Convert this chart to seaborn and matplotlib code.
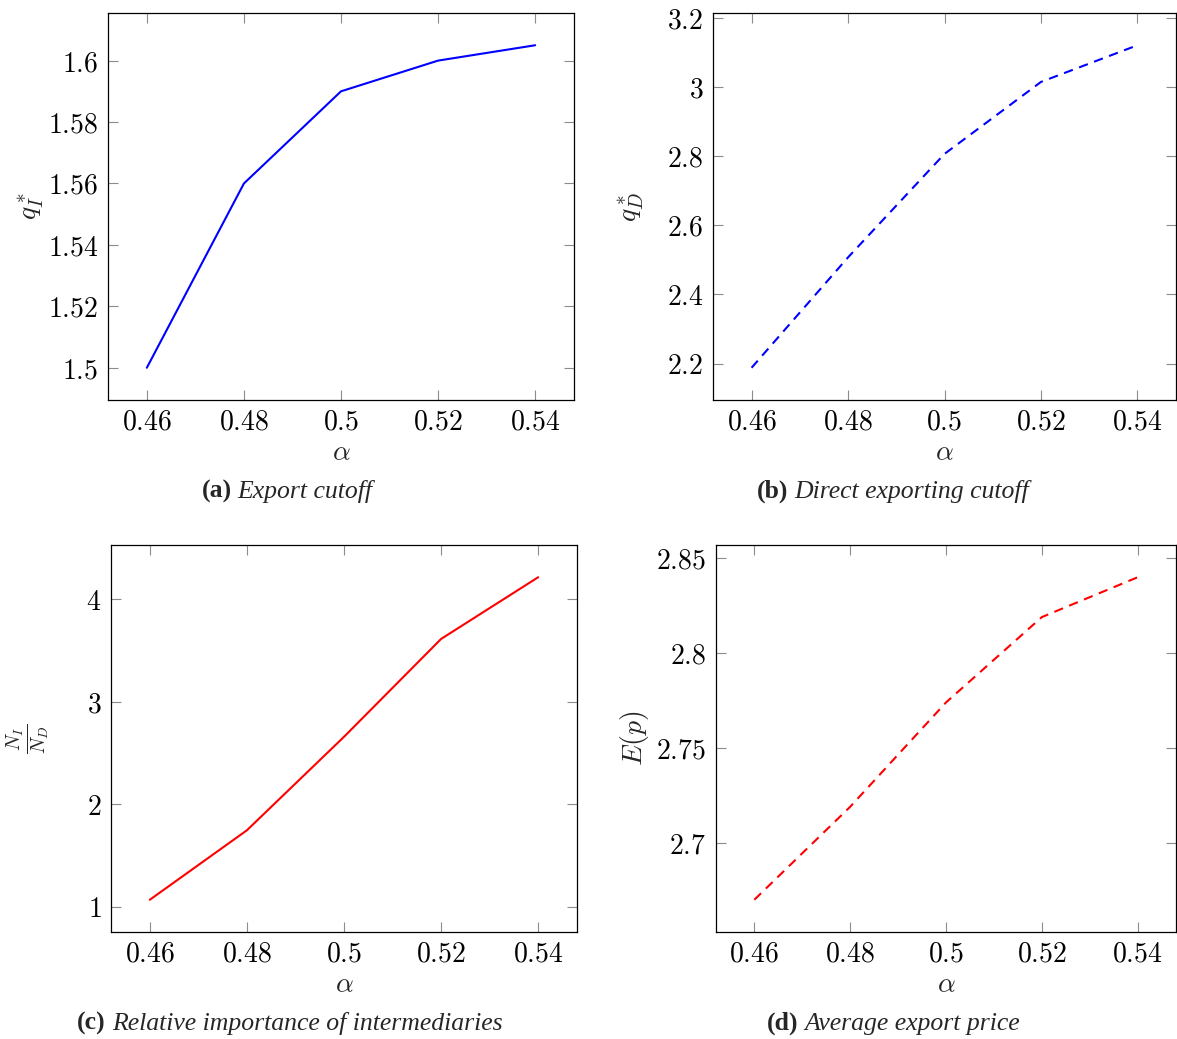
import matplotlib
matplotlib.use("Agg")
import matplotlib.pyplot as plt
import seaborn as sns
import numpy as np
import pandas as pd
from matplotlib.ticker import FuncFormatter, FixedLocator
from matplotlib import font_manager

# ---- data ----
alpha = [0.46, 0.48, 0.50, 0.52, 0.54]
q_I = [1.500, 1.560, 1.590, 1.600, 1.605]
q_D = [2.188, 2.507, 2.806, 3.014, 3.120]
ratio_NI_ND = [1.068, 1.746, 2.658, 3.613, 4.215]
avg_price = [2.670, 2.719, 2.774, 2.819, 2.840]

xticks = [0.46, 0.48, 0.50, 0.52, 0.54]
yticks_a = [1.50, 1.52, 1.54, 1.56, 1.58, 1.60]
yticks_b = [2.2, 2.4, 2.6, 2.8, 3.0, 3.2]
yticks_c = [1, 2, 3, 4]
yticks_d = [2.70, 2.75, 2.80, 2.85]

ylabels = [r"$q_I^*$", r"$q_D^*$", r"$\frac{N_I}{N_D}$", r"$E(p)$"]
caption_tags = ["(a)", "(b)", "(c)", "(d)"]
caption_texts = ["Export cutoff", "Direct exporting cutoff",
                 "Relative importance of intermediaries", "Average export price"]

sns.set_theme(style="ticks")
plt.rcParams["mathtext.fontset"] = "cm"
plt.rcParams["font.family"] = ["DejaVu Serif"]


def find_font(name, **kw):
    files = font_manager.findSystemFonts()
    for f in files:
        if f.endswith(name):
            return font_manager.FontProperties(fname=f, size=18.5)
    return font_manager.FontProperties(family=["Liberation Serif", "DejaVu Serif"],
                                       size=18.5, **kw)


fp_bold = find_font("LiberationSerif-Bold.ttf", weight="bold")
fp_ital = find_font("LiberationSerif-Italic.ttf", style="italic")

W, H = 1177, 1039
fig = plt.figure(figsize=(W / 100, H / 100), dpi=100)


def box(l, t, r, b):
    return [l / W, 1 - b / H, (r - l) / W, (b - t) / H]


boxes = [box(108, 13, 574, 400), box(713, 13, 1176, 400),
         box(111, 545, 577, 932), box(716, 545, 1176, 932)]
series = [q_I, q_D, ratio_NI_ND, avg_price]
colors = ["#0000ff", "#0000ff", "#ff0000", "#ff0000"]
styles = ["-", (0, (4.5, 3.2)), "-", (0, (4.5, 3.2))]
yticks_all = [yticks_a, yticks_b, yticks_c, yticks_d]
ylab_x = [-0.133, -0.145, -0.126, -0.141]

fmt = FuncFormatter(lambda v, p: "$%g$" % round(v, 4))

for i in range(4):
    ax = fig.add_axes(boxes[i])
    df = pd.DataFrame({"alpha": alpha, "val": series[i]})
    sns.lineplot(data=df, x="alpha", y="val", ax=ax, color=colors[i],
                 linewidth=1.5, linestyle=styles[i])
    vals = np.array(series[i])
    ymin, ymax = vals.min(), vals.max()
    pad = 0.1 * (ymax - ymin)
    ax.set_ylim(ymin - pad, ymax + pad)
    ax.set_xlim(0.46 - 0.008, 0.54 + 0.008)
    ax.xaxis.set_major_locator(FixedLocator(xticks))
    ax.yaxis.set_major_locator(FixedLocator(yticks_all[i]))
    ax.xaxis.set_major_formatter(fmt)
    ax.yaxis.set_major_formatter(fmt)
    ax.tick_params(direction="in", length=7, width=0.8, color="#8c8c8c",
                   top=True, right=True, labelsize=20, pad=7, labelcolor="black")
    ax.tick_params(axis="x", pad=6)
    for s in ax.spines.values():
        s.set_color("black")
        s.set_linewidth(0.9)
    ax.set_xlabel(r"$\alpha$", fontsize=20)
    ax.set_ylabel(ylabels[i], fontsize=20)
    ax.xaxis.set_label_coords(0.5, -0.10)
    ax.yaxis.set_label_coords(ylab_x[i], 0.5)
    ax.grid(False)

# captions
cap_centers = [(287, 498), (893, 498), (290, 1030), (893, 1030)]
renderer = fig.canvas.get_renderer()
for i in range(4):
    cx, by = cap_centers[i]
    t1 = fig.text(0, 1 - by / H, caption_tags[i], fontproperties=fp_bold,
                  va="baseline", ha="left")
    t2 = fig.text(0, 1 - by / H, caption_texts[i], fontproperties=fp_ital,
                  va="baseline", ha="left")
    w1 = t1.get_window_extent(renderer).width
    w2 = t2.get_window_extent(renderer).width
    gap = 6
    total = w1 + gap + w2
    x0 = cx - total / 2
    t1.set_x(x0 / W)
    t2.set_x((x0 + w1 + gap) / W)

fig.savefig("out.png", dpi=100)
